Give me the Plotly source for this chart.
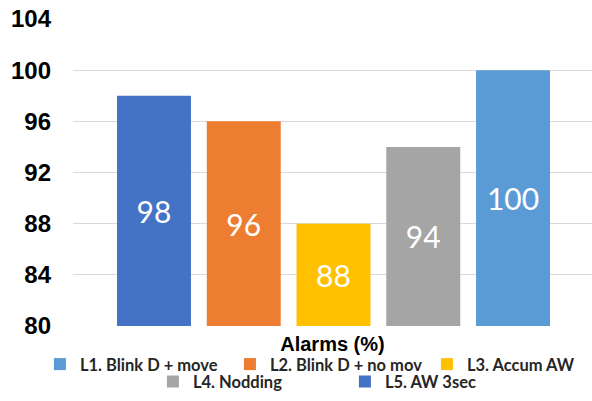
import plotly.graph_objects as go

names = ["L1. Blink D + move", "L2. Blink D + no mov", "L3. Accum AW", "L4. Nodding", "L5. AW 3sec"]
values = [100, 96, 88, 94, 98]
colors = ["#5B9BD5", "#ED7D31", "#FFC000", "#A5A5A5", "#4472C4"]
bar_order = ["L5. AW 3sec", "L2. Blink D + no mov", "L3. Accum AW", "L4. Nodding", "L1. Blink D + move"]
y_ticks = [80, 84, 88, 92, 96, 100, 104]
y_base = 80

# legend item placement (paper coords)
legend_x = [-0.0637, 0.3024, 0.6819, 0.154, 0.5239]
legend_y = [-0.125, -0.125, -0.125, -0.182, -0.182]

fig = go.Figure()
legend_font = dict(family="Lato, Liberation Sans, sans-serif", size=16.5, color="#262626")
legend_layouts = {}
for i, (n, v, c) in enumerate(zip(names, values, colors)):
    lid = "legend" if i == 0 else "legend%d" % (i + 1)
    fig.add_trace(go.Bar(
        x=[n], y=[v - y_base], base=[y_base], name="<b>" + n + "</b>",
        marker=dict(color=c, line=dict(width=0)),
        width=0.824, text=[str(v)], textposition="inside", insidetextanchor="middle",
        textfont=dict(family="Lato, Open Sans, sans-serif", size=30, color="white"),
        textangle=0,
        legend=lid,
    ))
    legend_layouts[lid] = dict(orientation="h", x=legend_x[i], xanchor="left",
                               y=legend_y[i], yanchor="middle",
                               font=legend_font, itemwidth=30, bgcolor="rgba(0,0,0,0)")

fig.update_layout(
    width=592, height=401,
    margin=dict(l=73, r=0, t=19, b=75),
    paper_bgcolor="white", plot_bgcolor="white",
    barmode="overlay",
    showlegend=True,
    xaxis=dict(type="category", categoryorder="array", categoryarray=bar_order,
               range=[-0.9025, 4.88], showticklabels=False, showgrid=False,
               zeroline=False, showline=False, ticks="",
               title=dict(text="<b>Alarms (%)</b>", standoff=10,
                          font=dict(family="Liberation Sans, Arial, sans-serif", size=20, color="black"))),
    yaxis=dict(range=[80, 104], tickvals=y_ticks, ticktext=["<b>%d</b>" % t for t in y_ticks],
               showgrid=True, gridcolor="#D9D9D9",
               gridwidth=1, zeroline=False, showline=False, ticks="",
               tickfont=dict(family="Liberation Sans, Arial, sans-serif", size=24, color="black"),
               ticklabelstandoff=21),
    font=dict(family="Liberation Sans, Arial, sans-serif"),
    **legend_layouts,
)

fig.write_html("out.html", config={"displayModeBar": False},
               post_script="document.body.style.margin='0px';")
